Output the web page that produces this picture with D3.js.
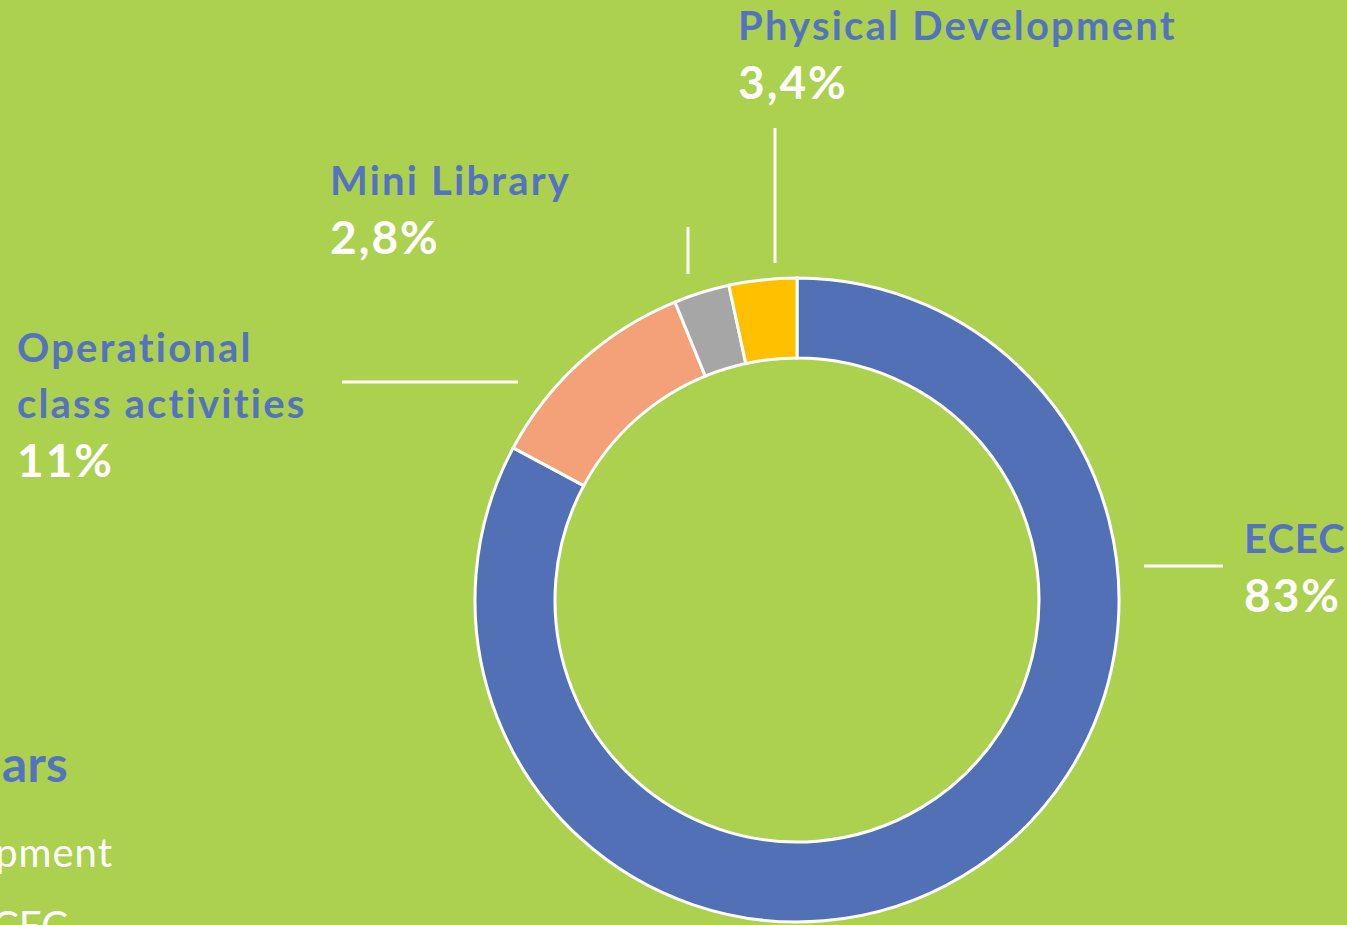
<!DOCTYPE html>
<html>
<head>
    <meta charset="utf-8" />
    <script src="https://d3js.org/d3.v7.min.js"></script>
    <style>
        body { margin: 0; background: #abd14f; overflow: hidden; }
        svg { display: block; }
    </style>
</head>
<body>
<svg id="svg"></svg>
<script>

// data (clockwise from 12 o'clock)
let categories = ["ECEC", "Operational class activities", "Mini Library", "Physical Development"];
let values = [83, 11, 2.8, 3.4];
let valueLabels = ["83%", "11%", "2,8%", "3,4%"];
let colors = ["#5170b6", "#f4a078", "#a6a6a6", "#ffc000"];

// label lines (name split for wrapping)
let nameLines = [["ECEC"], ["Operational", "class activities"], ["Mini Library"], ["Physical Development"]];

let W = 1347, H = 925;
let cx = 797, cy = 600;
let rOuter = 322, rInner = 242;

let svg = d3.select("#svg")
    .attr("width", W)
    .attr("height", H);

svg.append("rect")
    .attr("width", W)
    .attr("height", H)
    .attr("fill", "#abd14f");

let pie = d3.pie().sort(null).value(d => d);
let arcs = pie(values);

let arc = d3.arc()
    .innerRadius(rInner)
    .outerRadius(rOuter);

let g = svg.append("g")
    .attr("transform", `translate(${cx},${cy})`);

g.selectAll(".slice")
    .data(arcs)
    .enter()
    .append("path")
    .attr("class", "slice")
    .attr("d", arc)
    .attr("fill", (d, i) => colors[i])
    .attr("stroke", "#ffffff")
    .attr("stroke-width", 3);

// leader lines
let leaders = [
    { x1: 1144, y1: 566, x2: 1223, y2: 566 },
    { x1: 342, y1: 382, x2: 518, y2: 382 },
    { x1: 688, y1: 227, x2: 688, y2: 274 },
    { x1: 775, y1: 128, x2: 775, y2: 263 }
];

svg.selectAll(".leader")
    .data(leaders)
    .enter()
    .append("line")
    .attr("class", "leader")
    .attr("x1", d => d.x1).attr("y1", d => d.y1)
    .attr("x2", d => d.x2).attr("y2", d => d.y2)
    .attr("stroke", "#ffffff")
    .attr("stroke-width", 3);

// label positions: x and first baseline
let labelPos = [
    { x: 1244, y: 553 },
    { x: 17, y: 362 },
    { x: 330, y: 195 },
    { x: 738, y: 40 }
];

let lineGap = 56;
let font = "Lato, 'Open Sans', sans-serif";

let labels = svg.selectAll(".label")
    .data(categories)
    .enter()
    .append("text")
    .attr("class", "label")
    .attr("x", (d, i) => labelPos[i].x)
    .attr("y", (d, i) => labelPos[i].y)
    .style("font-family", font)
    .style("font-weight", "bold");

labels.each(function(d, i) {
    let t = d3.select(this);
    nameLines[i].forEach((line, j) => {
        t.append("tspan")
            .attr("x", labelPos[i].x)
            .attr("dy", j === 0 ? 0 : lineGap)
            .attr("fill", "#5472c0")
            .style("font-size", "40px")
            .style("letter-spacing", i === 0 ? "1px" : "2.2px")
            .text(line);
    });
    t.append("tspan")
        .attr("x", labelPos[i].x)
        .attr("dy", 59)
        .attr("fill", "#ffffff")
        .style("font-size", "46px")
        .style("letter-spacing", "2px")
        .text(valueLabels[i]);
});

// fragments of the slide text cut off at the left edge
svg.append("text")
    .attr("x", 68).attr("y", 782)
    .attr("text-anchor", "end")
    .style("font-family", font)
    .style("font-size", "50px")
    .style("font-weight", "bold")
    .attr("fill", "#5472c0")
    .text("ars");

svg.append("text")
    .attr("x", 113).attr("y", 867)
    .attr("text-anchor", "end")
    .style("font-family", font)
    .style("font-size", "40px")
    .style("letter-spacing", "1px")
    .attr("fill", "#ffffff")
    .text("pment");

svg.append("text")
    .attr("x", 68).attr("y", 940)
    .attr("text-anchor", "end")
    .style("font-family", font)
    .style("font-size", "40px")
    .attr("fill", "#ffffff")
    .text("CEC");

</script>
</body>
</html>
